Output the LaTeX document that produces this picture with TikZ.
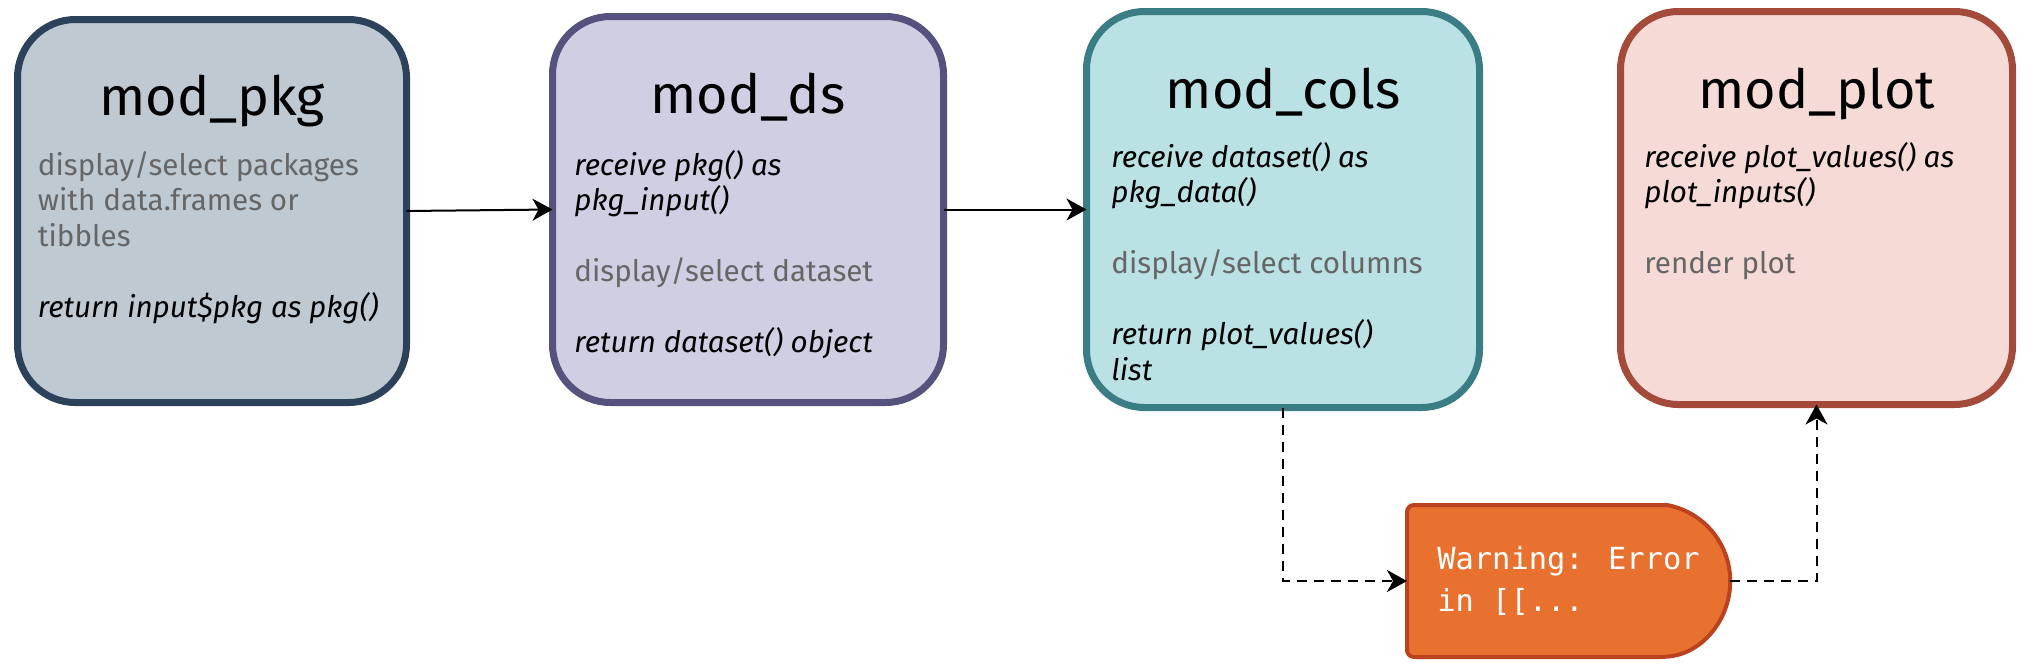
\documentclass[tikz,border=0pt]{standalone}
\usepackage{fontspec}
\setmainfont{Fira Sans}
\newfontfamily\warnfont{DejaVu Sans Mono}
\usepackage{tikz}
\usepackage{xcolor}
\usetikzlibrary{arrows.meta, calc}

\definecolor{pkgfill}{RGB}{190,201,210}
\definecolor{pkgline}{RGB}{44,66,90}
\definecolor{dsfill}{RGB}{208,206,226}
\definecolor{dsline}{RGB}{86,82,126}
\definecolor{colsfill}{RGB}{186,225,227}
\definecolor{colsline}{RGB}{58,125,132}
\definecolor{plotfill}{RGB}{245,218,214}
\definecolor{plotline}{RGB}{164,74,59}
\definecolor{warnfill}{RGB}{233,113,48}
\definecolor{warnline}{RGB}{186,66,30}
\definecolor{notegrey}{RGB}{102,102,102}

\newcommand{\bodystrut}{\rule{0pt}{14pt}}

\begin{document}
\begin{tikzpicture}[x=0.5pt, y=-0.5pt,
    modbox/.style={draw, rounded corners=29pt, line width=3.5pt, inner sep=0pt, outer sep=0pt},
    modtitle/.style={anchor=base, font=\fontsize{27}{32}\selectfont},
    modtext/.style={anchor=north west, align=left, inner sep=0pt, font=\fontsize{14.8}{17.75}\selectfont},
    flow/.style={-{Stealth[length=10pt, width=11pt, inset=3pt]}, line width=1pt},
    errflow/.style={flow, dash pattern=on 5pt off 3.5pt}]
    \useasboundingbox (0,0) rectangle (2036,670);

    % Modules
    \node[modbox, draw=pkgline, fill=pkgfill, minimum width=194.5pt, minimum height=191.5pt] (pkg) at (212,211) {};
    \node[modbox, draw=dsline, fill=dsfill, minimum width=195.5pt, minimum height=193pt] (ds) at (748,209.5) {};
    \node[modbox, draw=colsline, fill=colsfill, minimum width=196.5pt, minimum height=198pt] (cols) at (1283,209.5) {};
    \node[modbox, draw=plotline, fill=plotfill, minimum width=196pt, minimum height=196.5pt] (plot) at (1816.5,208) {};

    % Titles
    \node[modtitle] (pkgtitle) at (212,115) {mod\_pkg};
    \node[modtitle] (dstitle) at (748,113) {mod\_ds};
    \node[modtitle] (colstitle) at (1283,108) {mod\_cols};
    \node[modtitle] (plottitle) at (1817,108) {mod\_plot};

    % Module notes
    \node[modtext] (pkgtext) at (37.5,147) {\bodystrut\textcolor{notegrey}{display/select packages}\\
        \textcolor{notegrey}{with data.frames or}\\
        \textcolor{notegrey}{tibbles}\\[17.75pt]
        \textit{return input\$pkg as pkg()}};
    \node[modtext] (dstext) at (574,147) {\bodystrut\textit{receive pkg() as}\\
        \textit{pkg\_input()}\\[17.75pt]
        \textcolor{notegrey}{display/select dataset}\\[17.75pt]
        \textit{return dataset() object}};
    \node[modtext] (colstext) at (1111,139) {\bodystrut\textit{receive dataset() as}\\
        \textit{pkg\_data()}\\[17.75pt]
        \textcolor{notegrey}{display/select columns}\\[17.75pt]
        \textit{return plot\_values()}\\
        \textit{list}};
    \node[modtext] (plottext) at (1644,139) {\bodystrut\textit{receive plot\_values() as}\\
        \textit{plot\_inputs()}\\[17.75pt]
        \textcolor{notegrey}{render plot}};

    % Warning
    \node[minimum width=161.5pt, minimum height=76pt, inner sep=0pt, outer sep=0pt] (warn) at (1568.5,581) {};
    \filldraw[fill=warnfill, draw=warnline, line width=2pt]
        (warn.west) [rounded corners=3.5pt] -- (warn.south west) -- ($(warn.south east)+(-31.5pt,0)$)
        [sharp corners] arc[start angle=-79.5, end angle=79.5, radius=38.65pt]
        [rounded corners=3.5pt] -- (warn.north west) -- cycle;
    \node[align=left, text=white, font=\warnfont\fontsize{15.2}{20.75}\selectfont] (warntext) at (warn.center) {Warning: Error\\ in [[...};

    % Data flow
    \draw[flow] (pkg.east) -- (ds.west);
    \draw[flow] (ds.east) -- (cols.west);
    \draw[errflow] (cols.south) |- (warn.west);
    \draw[errflow] (warn.east) -| (plot.south);
\end{tikzpicture}
\end{document}
